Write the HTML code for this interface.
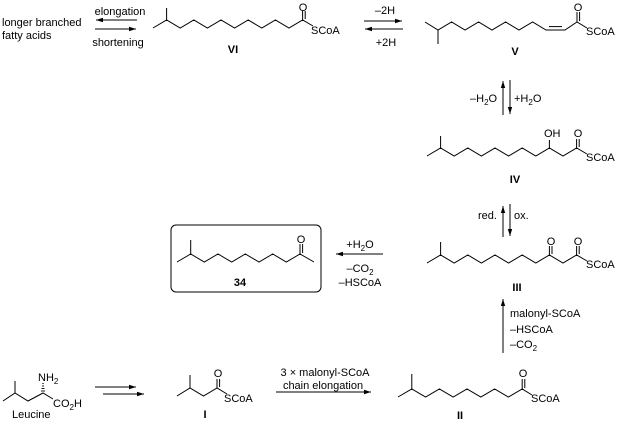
<!DOCTYPE html>
<html><head><meta charset="utf-8"><style>
html,body{margin:0;padding:0;background:#fff}
svg{display:block}
text{font-family:"Liberation Sans",Arial,sans-serif;font-size:11px;fill:#000}
.b{font-weight:bold}
.s{font-size:8px}
</style></head><body>
<svg width="617" height="421" viewBox="0 0 617 421" xmlns="http://www.w3.org/2000/svg">
<defs>
<marker id="ah" markerWidth="8" markerHeight="6" refX="7" refY="3" orient="auto" markerUnits="userSpaceOnUse">
<path d="M0,0.8 L7,3 L0,5.2 Z" fill="#000"/></marker>
</defs>
<g stroke="#000" stroke-width="1" fill="none">
<!-- top-left arrows -->
<line x1="137" y1="20" x2="96" y2="20" marker-end="url(#ah)"/>
<line x1="95" y1="29" x2="136" y2="29" marker-end="url(#ah)"/>
<!-- VI -->
<polyline points="153,28 166.6,20 180.2,28 193.8,20 207.4,28 221,20 234.6,28 248.2,20 261.8,28 275.4,20 289,28 302.6,20 313,26"/>
<line x1="166.6" y1="20" x2="166.6" y2="8"/>
<line x1="302.6" y1="20" x2="302.6" y2="11"/><line x1="305.2" y1="19" x2="305.2" y2="11"/>
<!-- VI <-> V arrows -->
<line x1="364" y1="21" x2="402" y2="21" marker-end="url(#ah)"/>
<line x1="403" y1="29" x2="365" y2="29" marker-end="url(#ah)"/>
<!-- V -->
<polyline points="425,22 438,30 451.6,22 465,30 478.6,22 492,30 505.6,22 519,30 532.6,22 546,30 565,30 577,22 587,28"/>
<line x1="438" y1="30" x2="438" y2="44"/>
<line x1="549" y1="26.6" x2="562" y2="26.6"/>
<line x1="577" y1="22" x2="577" y2="12"/><line x1="579.6" y1="21" x2="579.6" y2="12"/>
<!-- V <-> IV -->
<line x1="503" y1="115" x2="503" y2="81" marker-end="url(#ah)"/>
<line x1="510" y1="80" x2="510" y2="114" marker-end="url(#ah)"/>
<!-- IV -->
<polyline points="427,156 440.6,148 454.2,156 467.8,148 481.4,156 495,148 508.6,156 522.2,148 535.8,156 549.4,148 563,156 576.6,148 587,154"/>
<line x1="440.6" y1="148" x2="440.6" y2="136"/>
<line x1="549.4" y1="148" x2="549.4" y2="140"/>
<line x1="576.6" y1="148" x2="576.6" y2="139"/><line x1="579.2" y1="147" x2="579.2" y2="139"/>
<!-- IV <-> III -->
<line x1="503" y1="237" x2="503" y2="206" marker-end="url(#ah)"/>
<line x1="510" y1="204" x2="510" y2="236" marker-end="url(#ah)"/>
<!-- III -->
<polyline points="427,263 440.6,255 454.2,263 467.8,255 481.4,263 495,255 508.6,263 522.2,255 535.8,263 549.4,255 563,263 576.6,255 587,261"/>
<line x1="440.6" y1="255" x2="440.6" y2="242"/>
<line x1="549.4" y1="255" x2="549.4" y2="246"/><line x1="552" y1="254" x2="552" y2="246"/>
<line x1="576.6" y1="255" x2="576.6" y2="246"/><line x1="579.2" y1="254" x2="579.2" y2="246"/>
<!-- III -> 34 -->
<line x1="383" y1="254" x2="336" y2="254" marker-end="url(#ah)"/>
<!-- 34 box -->
<rect x="171" y="225" width="150" height="67" rx="5" ry="5"/>
<polyline points="177,262 190.7,254 204.3,262 218,254 231.7,262 245.3,254 259,262 272.7,254 286.3,262 300,254 314,262"/>
<line x1="190.7" y1="254" x2="190.7" y2="240"/>
<line x1="300" y1="254" x2="300" y2="244"/><line x1="302.6" y1="253" x2="302.6" y2="244"/>
<!-- II -> III -->
<line x1="503" y1="353" x2="503" y2="299" marker-end="url(#ah)"/>
<!-- Leucine -->
<polyline points="3,401 15,393 28,401 43,393 53,399"/>
<line x1="15" y1="393" x2="15" y2="381"/>
<g stroke-width="0.9">
<line x1="41" y1="391" x2="45" y2="391"/><line x1="41.5" y1="388.5" x2="44.5" y2="388.5"/><line x1="42" y1="386" x2="44" y2="386"/><line x1="42.3" y1="383.5" x2="43.7" y2="383.5"/>
</g>
<!-- leucine arrows -->
<line x1="95" y1="387" x2="136" y2="387" marker-end="url(#ah)"/>
<line x1="103" y1="394" x2="144" y2="394" marker-end="url(#ah)"/>
<!-- I -->
<polyline points="177,396 190,388 203.5,396 217,388 227,394"/>
<line x1="190" y1="388" x2="190" y2="375"/>
<line x1="217" y1="388" x2="217" y2="379"/><line x1="219.6" y1="387" x2="219.6" y2="379"/>
<!-- I -> II -->
<line x1="276" y1="392" x2="371" y2="392" marker-end="url(#ah)"/>
<!-- II -->
<polyline points="398,397 411.8,389 425.6,397 439.4,389 453.2,397 467,389 480.8,397 494.6,389 508.4,397 522.2,389 532,395"/>
<line x1="411.8" y1="389" x2="411.8" y2="374"/>
<line x1="522.2" y1="389" x2="522.2" y2="379"/><line x1="524.8" y1="388" x2="524.8" y2="379"/>
</g>

<text x="2" y="26">longer branched</text>
<text x="2" y="39">fatty acids</text>
<text x="120" y="15" text-anchor="middle">elongation</text>
<text x="118" y="46" text-anchor="middle">shortening</text>
<text x="303" y="11" text-anchor="middle">O</text>
<text x="311" y="34">SCoA</text>
<text x="233" y="53" class="b" text-anchor="middle">VI</text>

<text x="385" y="14" text-anchor="middle">–2H</text>
<text x="386" y="46" text-anchor="middle">+2H</text>
<text x="578" y="11" text-anchor="middle">O</text>
<text x="586" y="35">SCoA</text>
<text x="515" y="55" class="b" text-anchor="middle">V</text>

<text x="470" y="102">–H<tspan class="s" dy="3">2</tspan><tspan dy="-3">O</tspan></text>
<text x="514" y="102">+H<tspan class="s" dy="3">2</tspan><tspan dy="-3">O</tspan></text>

<text x="544" y="137">OH</text>
<text x="578" y="137" text-anchor="middle">O</text>
<text x="586" y="161">SCoA</text>
<text x="515" y="183" class="b" text-anchor="middle">IV</text>

<text x="478" y="219">red.</text>
<text x="514" y="219">ox.</text>

<text x="551" y="245" text-anchor="middle">O</text>
<text x="578" y="245" text-anchor="middle">O</text>
<text x="586" y="268">SCoA</text>
<text x="517" y="291" class="b" text-anchor="middle">III</text>

<text x="360" y="248" text-anchor="middle">+H<tspan class="s" dy="3">2</tspan><tspan dy="-3">O</tspan></text>
<text x="360" y="272" text-anchor="middle">–CO<tspan class="s" dy="3">2</tspan></text>
<text x="360" y="286" text-anchor="middle">–HSCoA</text>

<text x="301" y="243" text-anchor="middle">O</text>
<text x="240" y="286" class="b" text-anchor="middle">34</text>

<text x="510" y="317">malonyl-SCoA</text>
<text x="510" y="333">–HSCoA</text>
<text x="510" y="348">–CO<tspan class="s" dy="3">2</tspan></text>

<text x="38" y="381">NH<tspan class="s" dy="3">2</tspan></text>
<text x="53" y="407">CO<tspan class="s" dy="3">2</tspan><tspan dy="-3">H</tspan></text>
<text x="12" y="418">Leucine</text>

<text x="218" y="377" text-anchor="middle">O</text>
<text x="224" y="402">SCoA</text>
<text x="205" y="418" class="b" text-anchor="middle">I</text>

<text x="325" y="376" text-anchor="middle">3 × malonyl-SCoA</text>
<text x="323" y="389" text-anchor="middle">chain elongation</text>

<text x="523" y="377" text-anchor="middle">O</text>
<text x="531" y="402">SCoA</text>
<text x="460" y="419" class="b" text-anchor="middle">II</text>
</svg>
</body></html>
